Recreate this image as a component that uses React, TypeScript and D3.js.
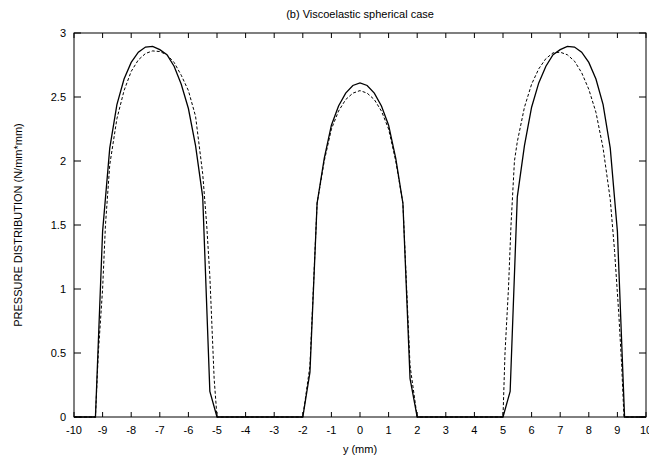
import React from 'react';
import * as d3 from 'd3';

// --- chart data ---
const xTicks = [-10, -9, -8, -7, -6, -5, -4, -3, -2, -1, 0, 1, 2, 3, 4, 5, 6, 7, 8, 9, 10];
const yTicks = [0, 0.5, 1, 1.5, 2, 2.5, 3];

// solid curve: viscoelastic solution
const viscoX = [
    -10, -9.25, -9.0, -8.75, -8.5, -8.25, -8.0, -7.75, -7.5, -7.25, -7.0, -6.75, -6.5, -6.25, -6.0, -5.75, -5.5, -5.25, -5.0,
    -2.0, -1.75, -1.5, -1.25, -1.0, -0.75, -0.5, -0.25, 0, 0.25, 0.5, 0.75, 1.0, 1.25, 1.5, 1.75, 2.0,
    5.0, 5.25, 5.5, 5.75, 6.0, 6.25, 6.5, 6.75, 7.0, 7.25, 7.5, 7.75, 8.0, 8.25, 8.5, 8.75, 9.0, 9.25, 10,
];
const viscoP = [
    0, 0, 1.45, 2.1, 2.44, 2.64, 2.77, 2.85, 2.89, 2.895, 2.87, 2.83, 2.74, 2.6, 2.41, 2.12, 1.72, 0.2, 0,
    0, 0.35, 1.67, 2.02, 2.28, 2.43, 2.53, 2.59, 2.61, 2.59, 2.53, 2.43, 2.28, 2.02, 1.67, 0.3, 0,
    0, 0.2, 1.72, 2.12, 2.42, 2.61, 2.74, 2.83, 2.87, 2.895, 2.89, 2.85, 2.77, 2.64, 2.44, 2.1, 1.45, 0, 0,
];

// dashed curve: elastic solution
const elasticX = [
    -10, -9.25, -9.15, -9.0, -8.9, -8.75, -8.5, -8.25, -8.0, -7.75, -7.5, -7.25, -7.0, -6.75, -6.5, -6.25, -6.0, -5.75, -5.5, -5.36, -5.25, -5.1, -5.0,
    -2.0, -1.75, -1.5, -1.25, -1.0, -0.75, -0.5, -0.25, 0, 0.25, 0.5, 0.75, 1.0, 1.25, 1.5, 1.75, 2.0,
    5.0, 5.07, 5.19, 5.28, 5.4, 5.5, 5.75, 6.0, 6.25, 6.5, 6.75, 7.0, 7.25, 7.5, 7.75, 8.0, 8.25, 8.5, 8.75, 8.9, 9.05, 9.15, 9.23, 10,
];
const elasticP = [
    0, 0, 0.5, 1.0, 1.5, 1.97, 2.33, 2.55, 2.7, 2.79, 2.84, 2.86, 2.855, 2.83, 2.77, 2.67, 2.55, 2.35, 1.9, 1.5, 1.1, 0.3, 0,
    0, 0.4, 1.67, 2.0, 2.25, 2.39, 2.48, 2.53, 2.55, 2.53, 2.48, 2.39, 2.25, 2.0, 1.67, 0.4, 0,
    0, 0.5, 1.0, 1.5, 2.0, 2.15, 2.42, 2.6, 2.72, 2.8, 2.845, 2.85, 2.83, 2.78, 2.69, 2.56, 2.38, 2.1, 1.7, 1.3, 0.8, 0.4, 0, 0,
];

const W = 649;
const H = 461;
const margin = { top: 33, right: 3, bottom: 44, left: 74 };
const FONT = '"Liberation Sans", Arial, Helvetica, sans-serif';

export default function App() {
    const x = d3.scaleLinear().domain([-10, 10]).range([margin.left, W - margin.right]);
    const y = d3.scaleLinear().domain([0, 3]).range([H - margin.bottom, margin.top]);

    const line = d3.line<[number, number]>()
        .x(d => x(d[0]))
        .y(d => y(d[1]));

    const visco = viscoX.map((v, i) => [v, viscoP[i]] as [number, number]);
    const elastic = elasticX.map((v, i) => [v, elasticP[i]] as [number, number]);

    const [x0, x1] = x.range();
    const [y0, y1] = y.range();

    return (
        <svg width={W} height={H} style={{ position: 'absolute', left: 0, top: 0, background: '#fff' }}
            fontFamily={FONT} fontSize={11}>
            <text x={(x0 + x1) / 2} y={18} textAnchor="middle">(b) Viscoelastic spherical case</text>

            {/* curves */}
            <path d={line(elastic) || ''} fill="none" stroke="#000" strokeWidth={1} strokeDasharray="3,2" />
            <path d={line(visco) || ''} fill="none" stroke="#000" strokeWidth={1.3} />

            {/* frame */}
            <rect x={x0} y={y1} width={x1 - x0} height={y0 - y1} fill="none" stroke="#000" strokeWidth={1} />

            {/* x ticks, mirrored on top */}
            {xTicks.map(t => (
                <g key={'x' + t}>
                    <line x1={x(t)} x2={x(t)} y1={y0} y2={y0 - 5} stroke="#000" />
                    <line x1={x(t)} x2={x(t)} y1={y1} y2={y1 + 5} stroke="#000" />
                    <text x={x(t)} y={y0 + 17} textAnchor="middle">{t}</text>
                </g>
            ))}

            {/* y ticks, mirrored on right */}
            {yTicks.map(t => (
                <g key={'y' + t}>
                    <line x1={x0} x2={x0 + 7} y1={y(t)} y2={y(t)} stroke="#000" />
                    <line x1={x1} x2={x1 - 7} y1={y(t)} y2={y(t)} stroke="#000" />
                    <text x={x0 - 8} y={y(t) + 4} textAnchor="end">{t}</text>
                </g>
            ))}

            <text x={(x0 + x1) / 2} y={453} textAnchor="middle">y (mm)</text>
            <text transform={`translate(22,${(y0 + y1) / 2}) rotate(-90)`} textAnchor="middle">
                PRESSURE DISTRIBUTION (N/mm*mm)
            </text>
        </svg>
    );
}
